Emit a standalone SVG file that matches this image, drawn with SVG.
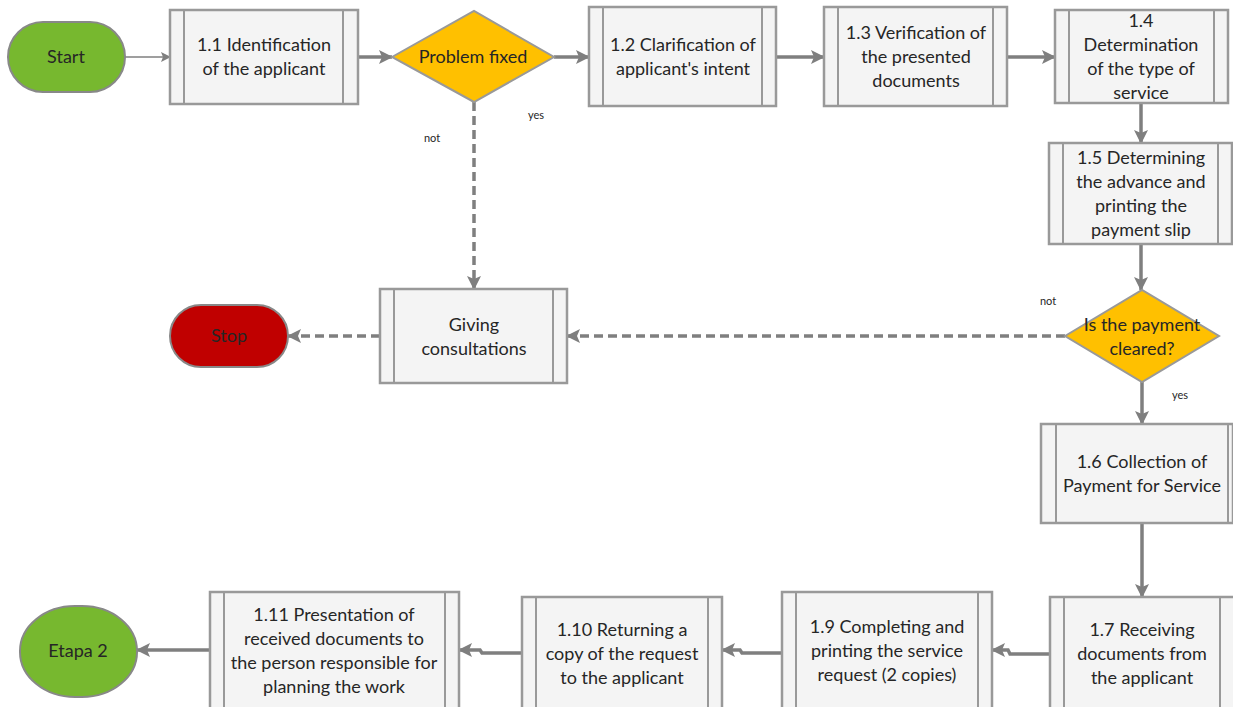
<svg xmlns="http://www.w3.org/2000/svg" width="1233" height="707" viewBox="0 0 1233 707">
<defs>
<marker id="ah" markerWidth="10" markerHeight="10" refX="9" refY="5" orient="auto" markerUnits="userSpaceOnUse"><path d="M0,0 L10,5 L0,10 L2,5 Z" fill="#7f7f7f"/></marker>
<marker id="ahb" markerWidth="14" markerHeight="14" refX="13" refY="7" orient="auto" markerUnits="userSpaceOnUse"><path d="M0,0 L14,7 L0,14 L3,7 Z" fill="#7f7f7f"/></marker>
<style>
.box{fill:#f4f4f4;stroke:#999;stroke-width:2.5}
.band{stroke:#999;stroke-width:2;fill:none}
.t{font-family:Lato,"Liberation Sans",sans-serif;font-size:18px;fill:#262626;text-anchor:middle}
.s{font-family:Lato,"Liberation Sans",sans-serif;font-size:11px;fill:#262626;text-anchor:middle}
.c{stroke:#7f7f7f;stroke-width:3.5;fill:none;marker-end:url(#ahb)}
.thin{stroke:#7f7f7f;stroke-width:1.5;fill:none;marker-end:url(#ah)}
.d{stroke:#7f7f7f;stroke-width:3.5;fill:none;stroke-dasharray:9,5;marker-end:url(#ahb)}
.dia{fill:#ffc000;stroke:#999;stroke-width:2}
.term{stroke:#888;stroke-width:2}
</style>
</defs>
<g id="connectors">
<path class="thin" d="M125,57 L170,57"/>
<path class="c" d="M358,57 L392,57"/>
<path class="c" d="M554,57 L589,57"/>
<path class="c" d="M776,57 L824,57"/>
<path class="c" d="M1007,57 L1055,57"/>
<path class="c" d="M1141,103 L1141,143"/>
<path class="c" d="M1141,244 L1141,290"/>
<path class="c" d="M1142,382 L1142,424"/>
<path class="c" d="M1142,523 L1142,597"/>
<path class="c" d="M1050,654 L1010,654 L1008,650 L992,650"/>
<path class="c" d="M782,653 L742,653 L740,650 L722,650"/>
<path class="c" d="M522,653 L482,653 L480,650 L459,650"/>
<path class="c" d="M210,650 L137,650"/>
<path class="d" d="M474,102 L474,289"/>
<path class="d" d="M1065,336 L567,336"/>
<path class="d" d="M380,336 L288,336"/>
<text class="s" x="432" y="142">not</text>
<text class="s" x="536" y="119">yes</text>
<text class="s" x="1048" y="305">not</text>
<text class="s" x="1180" y="399">yes</text>
</g>
<g id="start">
<rect class="term" x="8" y="22" width="117" height="70" rx="35" fill="#77b82f"/>
<text class="t" x="66" y="63">Start</text>
</g>
<g id="n11">
<rect class="box" x="170" y="10" width="188" height="94"/>
<path class="band" d="M184,10 V104 M343,10 V104"/>
<text class="t" x="264" y="51">1.1 Identification</text>
<text class="t" x="264" y="75">of the applicant</text>
</g>
<g id="d1">
<polygon class="dia" points="392,57 474,11 554,57 474,102"/>
<text class="t" x="473" y="63">Problem fixed</text>
</g>
<g id="n12">
<rect class="box" x="589" y="7" width="187" height="99"/>
<path class="band" d="M603,7 V106 M762,7 V106"/>
<text class="t" x="683" y="51">1.2 Clarification of</text>
<text class="t" x="683" y="75">applicant's intent</text>
</g>
<g id="n13">
<rect class="box" x="824" y="7" width="183" height="99"/>
<path class="band" d="M838,7 V106 M993,7 V106"/>
<text class="t" x="916" y="39">1.3 Verification of</text>
<text class="t" x="916" y="63">the presented</text>
<text class="t" x="916" y="87">documents</text>
</g>
<g id="n14">
<rect class="box" x="1055" y="10" width="173" height="93"/>
<path class="band" d="M1069,10 V103 M1214,10 V103"/>
<text class="t" x="1141" y="27">1.4</text>
<text class="t" x="1141" y="51">Determination</text>
<text class="t" x="1141" y="75">of the type of</text>
<text class="t" x="1141" y="99">service</text>
</g>
<g id="n15">
<rect class="box" x="1049" y="143" width="183" height="101"/>
<path class="band" d="M1063,143 V244 M1218,143 V244"/>
<text class="t" x="1141" y="164">1.5 Determining</text>
<text class="t" x="1141" y="188">the advance and</text>
<text class="t" x="1141" y="212">printing the</text>
<text class="t" x="1141" y="236">payment slip</text>
</g>
<g id="d2">
<polygon class="dia" points="1065,336 1142,290 1219,336 1142,382"/>
<text class="t" x="1142" y="331">Is the payment</text>
<text class="t" x="1142" y="355">cleared?</text>
</g>
<g id="consult">
<rect class="box" x="380" y="289" width="187" height="94"/>
<path class="band" d="M394,289 V383 M553,289 V383"/>
<text class="t" x="474" y="331">Giving</text>
<text class="t" x="474" y="355">consultations</text>
</g>
<g id="stop">
<rect class="term" x="170" y="305" width="118" height="62" rx="31" fill="#c00000"/>
<text class="t" x="229" y="342">Stop</text>
</g>
<g id="n16">
<rect class="box" x="1041" y="424" width="192" height="99"/>
<path class="band" d="M1056,424 V523 M1228,424 V523"/>
<text class="t" x="1142" y="468">1.6 Collection of</text>
<text class="t" x="1142" y="492">Payment for Service</text>
</g>
<g id="n17">
<rect class="box" x="1050" y="597" width="185" height="115"/>
<path class="band" d="M1064,597 V712 M1220,597 V712"/>
<text class="t" x="1142" y="636">1.7 Receiving</text>
<text class="t" x="1142" y="660">documents from</text>
<text class="t" x="1142" y="684">the applicant</text>
</g>
<g id="n19">
<rect class="box" x="782" y="592" width="210" height="120"/>
<path class="band" d="M796,592 V712 M978,592 V712"/>
<text class="t" x="887" y="633">1.9 Completing and</text>
<text class="t" x="887" y="657">printing the service</text>
<text class="t" x="887" y="681">request (2 copies)</text>
</g>
<g id="n110">
<rect class="box" x="522" y="597" width="200" height="115"/>
<path class="band" d="M536,597 V712 M708,597 V712"/>
<text class="t" x="622" y="636">1.10 Returning a</text>
<text class="t" x="622" y="660">copy of the request</text>
<text class="t" x="622" y="684">to the applicant</text>
</g>
<g id="n111">
<rect class="box" x="210" y="592" width="249" height="120"/>
<path class="band" d="M224,592 V712 M445,592 V712"/>
<text class="t" x="334" y="621">1.11 Presentation of</text>
<text class="t" x="334" y="645">received documents to</text>
<text class="t" x="334" y="669">the person responsible for</text>
<text class="t" x="334" y="693">planning the work</text>
</g>
<g id="etapa2">
<rect class="term" x="20" y="606" width="117" height="91" rx="55" ry="45" fill="#77b82f"/>
<text class="t" x="78" y="657">Etapa 2</text>
</g>
</svg>
